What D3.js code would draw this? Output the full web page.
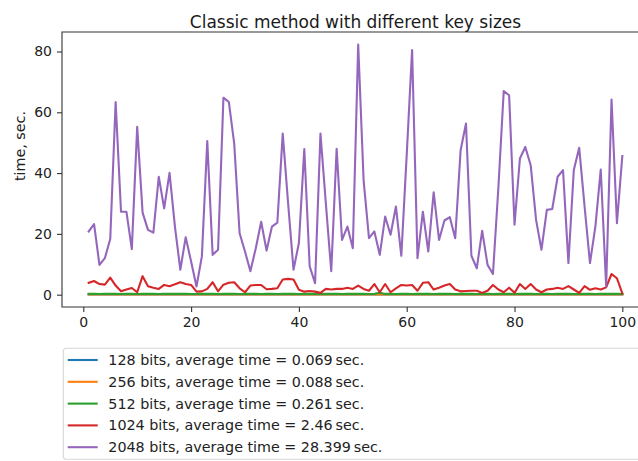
<!DOCTYPE html>
<html>
<head>
<meta charset="utf-8">
<script src="https://cdn.jsdelivr.net/npm/d3@7"></script>
<style>
  html, body { margin: 0; padding: 0; background: #fff; }
  svg { display: block; font-family: "DejaVu Sans", sans-serif; }
</style>
</head>
<body>
<svg id="chart" width="638" height="461"></svg>
<script>
// Run timings (seconds) for 100 runs of the classic method, per key size
const runs = d3.range(1, 101);

const bits128 = [
  0.07,0.06,0.07,0.08,0.07,0.06,0.07,0.07,0.08,0.06,
  0.07,0.07,0.06,0.08,0.07,0.07,0.06,0.07,0.09,0.07,
  0.06,0.07,0.07,0.08,0.06,0.07,0.07,0.06,0.07,0.08,
  0.07,0.06,0.07,0.07,0.08,0.06,0.07,0.07,0.06,0.07,
  0.08,0.07,0.06,0.07,0.07,0.08,0.06,0.07,0.07,0.06,
  0.07,0.08,0.07,0.06,0.07,0.07,0.08,0.06,0.07,0.07,
  0.06,0.07,0.08,0.07,0.06,0.07,0.07,0.08,0.06,0.07,
  0.07,0.06,0.07,0.08,0.07,0.06,0.07,0.07,0.08,0.06,
  0.07,0.07,0.06,0.07,0.08,0.07,0.06,0.07,0.07,0.08,
  0.06,0.07,0.07,0.06,0.07,0.08,0.07,0.06,0.07,0.07
];
const bits256 = [
  0.09,0.08,0.10,0.09,0.08,0.09,0.11,0.08,0.09,0.08,
  0.09,0.10,0.08,0.09,0.09,0.08,0.10,0.09,0.12,0.08,
  0.09,0.08,0.09,0.10,0.08,0.09,0.09,0.08,0.10,0.09,
  0.08,0.09,0.09,0.10,0.08,0.09,0.08,0.09,0.10,0.09,
  0.08,0.09,0.09,0.08,0.10,0.09,0.08,0.09,0.09,0.10,
  0.08,0.09,0.09,0.08,0.14,0.09,0.08,0.10,0.09,0.08,
  0.09,0.09,0.10,0.08,0.09,0.09,0.08,0.10,0.09,0.08,
  0.09,0.09,0.08,0.10,0.09,0.08,0.09,0.09,0.10,0.08,
  0.09,0.08,0.09,0.10,0.09,0.08,0.09,0.09,0.08,0.10,
  0.09,0.08,0.09,0.09,0.10,0.08,0.09,0.11,0.09,0.08
];
const bits512 = [
  0.27,0.25,0.24,0.26,0.28,0.25,0.23,0.26,0.27,0.24,
  0.25,0.29,0.26,0.24,0.25,0.27,0.26,0.25,0.31,0.24,
  0.23,0.26,0.25,0.27,0.24,0.26,0.28,0.25,0.24,0.26,
  0.25,0.27,0.24,0.26,0.25,0.23,0.27,0.26,0.25,0.24,
  0.26,0.25,0.27,0.24,0.26,0.25,0.28,0.24,0.26,0.25,
  0.27,0.25,0.24,0.26,0.62,0.25,0.27,0.24,0.26,0.25,
  0.24,0.26,0.25,0.27,0.24,0.26,0.25,0.28,0.24,0.26,
  0.25,0.27,0.24,0.26,0.25,0.24,0.27,0.25,0.26,0.24,
  0.26,0.25,0.27,0.24,0.26,0.25,0.24,0.27,0.25,0.26,
  0.24,0.26,0.25,0.27,0.24,0.26,0.25,0.29,0.26,0.24
];
const bits1024 = [
  3.9,4.5,3.5,3.3,5.6,3.0,1.1,1.7,2.2,0.8,
  6.1,2.8,2.3,1.9,3.2,2.8,3.4,4.1,3.5,3.2,
  1.0,1.1,1.9,4.1,1.1,3.3,3.9,4.1,2.1,0.8,
  3.0,3.2,3.2,1.8,1.9,2.1,5.0,5.2,5.0,1.6,
  1.0,1.2,1.0,0.6,1.9,1.7,1.9,1.9,2.3,1.9,
  3.0,1.9,1.3,3.5,0.8,3.5,0.8,2.1,3.2,3.0,
  3.2,1.3,3.9,4.1,1.7,2.3,3.0,3.5,1.7,1.1,
  1.2,1.3,1.3,0.6,1.3,3.2,1.7,0.8,2.3,0.6,
  3.5,1.9,3.5,1.7,0.8,1.7,1.9,2.3,1.9,2.8,
  1.7,0.6,2.8,1.6,2.1,1.7,2.4,6.8,5.4,0.4
];
const bits2048 = [
  20.8,23.2,9.8,12.0,18.3,63.4,27.3,27.3,15.0,55.2,
  27.0,21.3,20.4,38.8,28.4,40.1,22.4,8.2,18.9,10.9,
  2.7,12.6,50.5,13.1,14.8,64.8,63.4,49.7,20.2,14.2,
  7.7,15.3,24.0,14.5,22.4,23.7,53.0,30.0,8.2,17.0,
  47.9,9.3,3.8,53.0,30.0,7.7,48.0,18.0,22.4,15.3,
  82.3,37.7,18.6,20.8,13.1,25.7,19.7,29.0,12.8,46.0,
  80.5,12.0,27.3,14.2,33.7,18.0,24.4,25.5,18.6,47.5,
  56.3,12.8,8.7,21.0,9.8,6.8,35.0,67.0,65.6,23.0,
  44.8,48.6,42.6,24.6,14.8,27.9,28.2,38.8,41.0,10.4,
  41.0,48.3,29.0,10.4,22.4,41.2,2.7,64.2,23.5,45.6
];

const seriesNames = [
  "128 bits, average time = 0.069\u2009sec.",
  "256 bits, average time = 0.088\u2009sec.",
  "512 bits, average time = 0.261\u2009sec.",
  "1024 bits, average time = 2.46\u2009sec.",
  "2048 bits, average time = 28.399\u2009sec."
];
const seriesColors = ["#1f77b4", "#ff7f0e", "#2ca02c", "#d62728", "#9467bd"];
const seriesValues = [bits128, bits256, bits512, bits1024, bits2048];

const xTicks = [0, 20, 40, 60, 80, 100];
const yTicks = [0, 20, 40, 60, 80];

const titleText = "Classic method with different key sizes";
const yLabelText = "time, sec.";

// plot frame
const frame = { left: 62, right: 649, top: 32, bottom: 307 };

const svg = d3.select("#chart");

// data limits padded by 5% on each side
const xExt = d3.extent(runs);
const xPad = (xExt[1] - xExt[0]) * 0.05;
const allVals = seriesValues.flat();
const yExt = d3.extent(allVals);
const yPad = (yExt[1] - yExt[0]) * 0.05;

const x = d3.scaleLinear()
  .domain([xExt[0] - xPad, xExt[1] + xPad])
  .range([frame.left, frame.right]);
const y = d3.scaleLinear()
  .domain([yExt[0] - yPad, yExt[1] + yPad])
  .range([frame.bottom, frame.top]);

// title
svg.append("text")
  .attr("x", (frame.left + frame.right) / 2)
  .attr("y", 28)
  .attr("text-anchor", "middle")
  .attr("font-size", 17)
  .attr("fill", "#1a1a1a")
  .text(titleText);

// lines
const line = d3.line()
  .x((d, i) => x(runs[i]))
  .y(d => y(d));

const plot = svg.append("g");
seriesValues.forEach((vals, k) => {
  plot.append("path")
    .datum(vals)
    .attr("fill", "none")
    .attr("stroke", seriesColors[k])
    .attr("stroke-width", 2.1)
    .attr("stroke-linejoin", "round")
    .attr("stroke-linecap", "square")
    .attr("d", line);
});

// axes
const xAxis = d3.axisBottom(x).tickValues(xTicks).tickSize(5).tickPadding(5);
const yAxis = d3.axisLeft(y).tickValues(yTicks).tickSize(5).tickPadding(5);

const gx = svg.append("g")
  .attr("transform", `translate(0,${frame.bottom})`)
  .call(xAxis);
const gy = svg.append("g")
  .attr("transform", `translate(${frame.left},0)`)
  .call(yAxis);

[gx, gy].forEach(g => {
  g.select(".domain").remove();
  g.selectAll(".tick line").attr("stroke", "#333").attr("stroke-width", 1.1);
  g.selectAll(".tick text")
    .attr("font-size", 14)
    .attr("font-family", "DejaVu Sans, sans-serif")
    .attr("fill", "#222");
});

// spines (left, bottom, top; right edge lies outside the view)
svg.append("path")
  .attr("d", `M${frame.right},${frame.top}H${frame.left}V${frame.bottom}H${frame.right}`)
  .attr("fill", "none")
  .attr("stroke", "#333")
  .attr("stroke-width", 1.1);

// y label
svg.append("text")
  .attr("transform", "translate(19.5,146) rotate(-90)")
  .attr("text-anchor", "middle")
  .attr("dominant-baseline", "central")
  .attr("font-size", 14.3)
  .attr("fill", "#222")
  .text(yLabelText);

// legend
const legend = svg.append("g").attr("transform", "translate(63.3,348.3)");
legend.append("rect")
  .attr("x", 0).attr("y", 0)
  .attr("width", 600).attr("height", 111)
  .attr("rx", 3)
  .attr("fill", "#fff")
  .attr("stroke", "#d6d6d6")
  .attr("stroke-width", 1.1);

seriesNames.forEach((name, k) => {
  const cy = 11.7 + k * 21.8;
  legend.append("line")
    .attr("x1", 4.4).attr("x2", 34.4)
    .attr("y1", cy).attr("y2", cy)
    .attr("stroke", seriesColors[k])
    .attr("stroke-width", 2.1);
  legend.append("text")
    .attr("x", 45)
    .attr("y", cy)
    .attr("dominant-baseline", "central")
    .attr("font-size", 14.3)
    .attr("fill", "#222")
    .text(name);
});
</script>
</body>
</html>
